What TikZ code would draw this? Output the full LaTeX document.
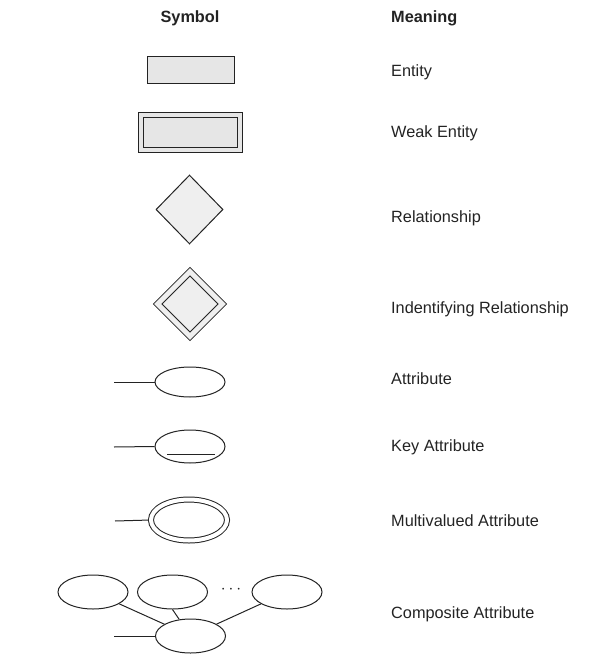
\documentclass[tikz,border=0pt]{standalone}
\usepackage{fontspec}
\setmainfont{Liberation Sans}
\usetikzlibrary{shapes.geometric}
\definecolor{erline}{RGB}{35,35,35}
\definecolor{erfill}{RGB}{230,230,230}
\definecolor{relfill}{RGB}{239,239,239}

\begin{document}
\begin{tikzpicture}[x=1pt, y=-1pt,
    sym/.style={draw=erline, line width=1pt},
    attr/.style={sym, ellipse, fill=white, minimum width=70, minimum height=30, inner sep=0pt},
    meaning/.style={anchor=west, inner sep=0pt, text=erline, font=\fontsize{16.3}{19}\selectfont}]
    \useasboundingbox (0,0) rectangle (600,663);

    % Headers
    \node[meaning, anchor=center, font=\fontsize{16.3}{19}\selectfont\bfseries] (hsym) at (190,18) {Symbol};
    \node[meaning, font=\fontsize{16.3}{19}\selectfont\bfseries] (hmean) at (391,18) {Meaning};

    % Entity
    \node[sym, fill=erfill, minimum width=87, minimum height=27, inner sep=0pt] (ent) at (190.5,70.5) {};
    \node[meaning] (tent) at (391,72) {Entity};

    % Weak entity
    \node[sym, fill=erfill, double=erfill, double distance=4pt, minimum width=99, minimum height=35, inner sep=0pt] (went) at (190,133) {};
    \node[meaning] (twent) at (391,133) {Weak Entity};

    % Relationship
    \node[sym, diamond, fill=relfill, minimum width=67, minimum height=69, inner sep=0pt] (rel) at (189.5,209.5) {};
    \node[meaning] (trel) at (391,218) {Relationship};

    % Identifying relationship
    \node[sym, diamond, fill=relfill, double=relfill, double distance=5pt, minimum width=65, minimum height=65, inner sep=0pt] (idrel) at (190,304) {};
    \node[meaning] (tidrel) at (391,309) {Indentifying Relationship};

    % Attribute
    \node[attr] (att) at (190,382) {};
    \coordinate (attl) at (114,382);
    \draw[sym] (attl) -- (att.west);
    \node[meaning] (tatt) at (391,379) {Attribute};

    % Key attribute
    \node[attr, minimum height=33] (key) at (190,446.5) {};
    \coordinate (keyl) at (114,447);
    \draw[sym] (keyl) -- (key.west);
    \draw[sym] ([xshift=-23pt, yshift=9pt]key.south) -- ([xshift=25pt, yshift=9pt]key.south);
    \node[meaning] (tkey) at (391,447) {Key Attribute};

    % Multivalued attribute
    \node[attr, double=white, double distance=4pt, minimum width=76, minimum height=41] (mv) at (189,520) {};
    \coordinate (mvl) at (115,521);
    \draw[sym, shorten >=2.5pt] (mvl) -- (mv.west);
    \node[meaning] (tmv) at (391,521) {Multivalued Attribute};

    % Composite attribute
    \node[attr, minimum height=34] (c1) at (93,592) {};
    \node[attr, minimum height=34] (c2) at (172.5,592) {};
    \node[attr, minimum height=34] (cn) at (287,592) {};
    \node[text=erline, font=\fontsize{16}{19}\selectfont] (dots) at (231,590) {$\cdots$};
    \node[attr, minimum height=34] (comp) at (190.5,636) {};
    \coordinate (compl) at (114,636);
    \draw[sym] (compl) -- (comp.west);
    \draw[sym] (c1) -- (comp);
    \draw[sym] (c2.south) -- (comp);
    \draw[sym] (cn) -- (comp);
    \node[meaning] (tcomp) at (391,614) {Composite Attribute};
\end{tikzpicture}
\end{document}
